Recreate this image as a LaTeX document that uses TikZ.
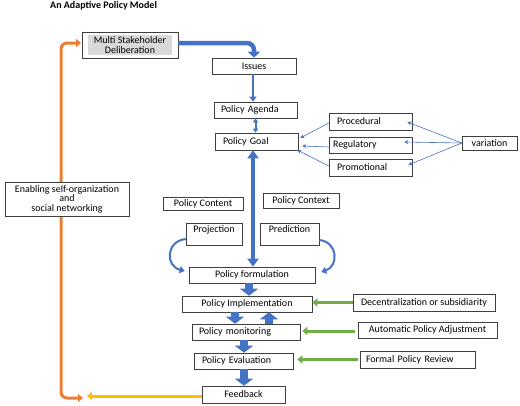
\documentclass[tikz,border=0pt]{standalone}
\usepackage{fontspec}
\setmainfont{Carlito}
\usetikzlibrary{arrows.meta,positioning}
\definecolor{bblue}{HTML}{4472C4}
\definecolor{ggreen}{HTML}{70AD47}
\definecolor{oorange}{HTML}{ED7D31}
\definecolor{ggold}{HTML}{FFC000}
\definecolor{bordc}{HTML}{3F3F3F}
\definecolor{msdgray}{HTML}{D9D9D9}
\begin{document}
\begin{tikzpicture}[x=1pt,y=-1pt,
  bx/.style={draw=bordc, line width=0.6pt, fill=white, inner sep=0pt, font=\fontsize{10}{10}\selectfont},
  lbx/.style={bx, text width=#1, align=left},
  txt/.style={inner sep=0pt, font=\fontsize{10}{10}\selectfont},
  blk/.style={bblue, line width=8pt, -{Triangle[width=18pt,length=7pt]}},
  grn/.style={ggreen, line width=3pt, -{Triangle[width=8pt,length=5pt]}},
  thn/.style={bblue, line width=0.6pt, -{Stealth[width=4pt,length=4pt]}},
  crv/.style={bblue, line width=2pt, -{Triangle[width=7pt,length=5pt]}}
]
\useasboundingbox (0,0) rectangle (520,405);
\fill[white] (0,0) rectangle (520,405);

\node[inner sep=0pt, anchor=base west, font=\fontsize{10}{10}\selectfont\bfseries] (title) at (50,8.5) {An Adaptive Policy Model};

% orange feedback loop (behind Enabling box)
\coordinate (obot) at (83,398);
\coordinate (ocor1) at (61,398);
\coordinate (ocor2) at (61,43);
\draw[oorange, line width=3pt, rounded corners=6pt, {Triangle[width=8pt,length=5pt]}-{Triangle[width=8pt,length=5pt]}]
  (obot) -- (ocor1) -- (ocor2) -- (81,43);

\node[bx, minimum width=124pt, minimum height=34pt, align=center, font=\fontsize{10}{9.5}\selectfont] (enab) at (67,199) {Enabling self-organization\\and\\social networking};

% MSD
\node[bx, minimum width=96pt, minimum height=26pt] (msd) at (130,45) {};
\node[txt, fill=msdgray, minimum width=84pt, minimum height=20pt, align=center] (msdt) at (130,45) {Multi Stakeholder\\Deliberation};

\node[bx, minimum width=84pt, minimum height=16pt] (issues) at (254,66) {Issues};
\node[lbx=69pt, inner xsep=7pt, minimum height=16pt] (agenda) at (255.5,110) {Policy Agenda};
\node[lbx=67pt, inner xsep=8pt, minimum height=17pt] (goal) at (256.5,141.5) {Policy Goal};

\node[lbx=67pt, inner xsep=8pt, minimum height=17pt] (proc) at (370.5,121.5) {Procedural};
\node[lbx=75pt, inner xsep=4pt, minimum height=16pt] (reg) at (370.5,145) {Regulatory};
\node[lbx=67pt, inner xsep=8pt, minimum height=17pt] (prom) at (370.5,167.5) {Promotional};
\node[bx, minimum width=55pt, minimum height=14pt] (var) at (489.5,143) {variation};

\node[bx, minimum width=80pt, minimum height=13pt] (content) at (203,203.5) {Policy Content};
\node[bx, minimum width=76pt, minimum height=15pt] (context) at (301,200.5) {Policy Context};

\node[bx, minimum width=56pt, minimum height=22pt] (proj) at (214,234) {};
\node[txt, anchor=north] (projt) at ([yshift=-2.5pt]proj.north) {Projection};
\node[bx, minimum width=59pt, minimum height=22pt] (pred) at (289.5,234) {};
\node[txt, anchor=north] (predt) at ([yshift=-2.5pt]pred.north) {Prediction};

\node[bx, minimum width=126pt, minimum height=16pt] (form) at (252,275) {Policy formulation};
\node[bx, minimum width=130pt, minimum height=16pt] (impl) at (247,304) {Policy Implementation};
\node[lbx=94pt, inner xsep=7pt, minimum height=16pt] (mon) at (246,332) {Policy monitoring};
\node[lbx=83pt, inner xsep=8pt, minimum height=16pt] (eval) at (243.5,361) {Policy Evaluation};
\node[bx, minimum width=83pt, minimum height=17pt] (feed) at (243.5,394.5) {Feedback};

\node[bx, minimum width=142pt, minimum height=17pt] (dec) at (424,302.5) {Decentralization or subsidiarity};
\node[bx, minimum width=139pt, minimum height=16pt] (auto) at (427.5,330) {Automatic Policy Adjustment};
\node[lbx=103pt, inner xsep=6pt, minimum height=17pt] (formal) at (417.5,359.5) {Formal Policy Review};

% MSD -> Issues
\draw[bblue, line width=4.5pt, rounded corners=7pt, -{Triangle[width=12pt,length=6pt]}]
  ([yshift=2pt]msd.east) -| (issues.north);
% Issues -> Agenda
\draw[bblue, line width=2.5pt, -{Triangle[width=7pt,length=5pt]}]
  ([xshift=-1pt]issues.south) -- ([xshift=-2.5pt]agenda.north);
% Agenda <-> Goal
\draw[bblue, line width=2pt, {Triangle[width=5pt,length=4pt]}-{Triangle[width=5pt,length=4pt]}]
  (agenda.south) -- (agenda.south |- goal.north);
% Goal <-> formulation
\coordinate (gx) at (253,0);
\draw[bblue, line width=4pt, {Triangle[width=11pt,length=8pt]}-{Triangle[width=11pt,length=8pt]}]
  (gx |- goal.south) -- (gx |- form.north);

% types -> goal
\draw[thn] ([yshift=-1.5pt]proc.west) -- ([xshift=2pt,yshift=3.5pt]goal.east);
\draw[thn] ([yshift=-2pt]reg.west) -- ([xshift=4pt,yshift=-4.5pt]goal.east);
\draw[thn] ([yshift=1.5pt]prom.west) -- ([xshift=-1pt,yshift=-8.5pt]goal.east);
% variation -> types
\draw[thn] (var.west) -- ([xshift=-5pt,yshift=-0.5pt]proc.east);
\draw[thn] (var.west) -- ([xshift=-8pt,yshift=3pt]reg.east);
\draw[thn] (var.west) -- ([xshift=-4pt,yshift=2.5pt]prom.east);

% curved arrows
\draw[crv] ([yshift=-5pt]proj.west) .. controls (166,241) and (165,266) .. ([xshift=-4pt,yshift=4pt]form.west);
\draw[crv] ([yshift=-6pt]pred.east) .. controls (338,242) and (339,266) .. ([xshift=6pt,yshift=3pt]form.east);

% block arrows
\coordinate (a1) at (249,0);
\coordinate (a2) at (235,0);
\coordinate (a3) at (269,0);
\coordinate (a4) at (244,0);
\draw[blk] (a1 |- form.south) -- (a1 |- impl.north);
\draw[blk] (a2 |- impl.south) -- (a2 |- mon.north);
\draw[blk] (a3 |- mon.north) -- (a3 |- impl.south);
\draw[blk] (a4 |- mon.south) -- (a4 |- eval.north);
\draw[blk] (a4 |- eval.south) -- (a4 |- feed.north);

% green arrows
\draw[grn] (dec.west) -- (dec.west -| impl.east);
\draw[grn] ([xshift=-3pt,yshift=-1pt]auto.west) -- ([xshift=2pt,yshift=-1pt]auto.west -| mon.east);
\draw[grn] ([xshift=-2pt]formal.west) -- ([xshift=4pt]formal.west -| eval.east);

% yellow
\coordinate (yend) at (87,396);
\draw[ggold, line width=3pt, -{Triangle[width=8pt,length=5pt]}] ([yshift=-1.5pt]feed.west) -- (yend);
\end{tikzpicture}
\end{document}
